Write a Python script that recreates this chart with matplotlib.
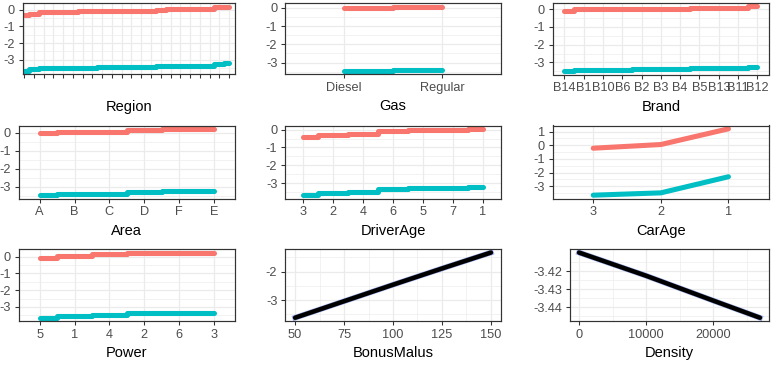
import matplotlib.pyplot as plt
from matplotlib.ticker import MultipleLocator, AutoMinorLocator, FormatStrFormatter, FixedLocator

plt.rcParams['font.family'] = ['Liberation Sans', 'DejaVu Sans']
plt.rcParams['axes.unicode_minus'] = False

RED = "#F8766D"
TEAL = "#00BFC4"
GRID = "#EBEBEB"
W, H, DPI = 771, 366, 96

# ---- data ----
region_levels = [""] * 22
region_red = [-0.32, -0.25, -0.17, -0.15, -0.15, -0.14, -0.07, -0.07, -0.07, -0.07, -0.07,
              -0.07, -0.07, -0.07, -0.02, 0.05, 0.05, 0.05, 0.05, 0.05, 0.13, 0.18]
region_teal = [-3.65, -3.57, -3.49, -3.49, -3.49, -3.49, -3.49, -3.49, -3.42, -3.42, -3.42,
               -3.42, -3.42, -3.42, -3.38, -3.35, -3.35, -3.35, -3.35, -3.35, -3.27, -3.21]

gas_levels = ["Diesel", "Regular"]
gas_red = [0.0, 0.07]
gas_teal = [-3.45, -3.40]

brand_levels = ["B14", "B1", "B10", "B6", "B2", "B3", "B4", "B5", "B13", "B11", "B12"]
brand_red = [-0.09, 0.03, 0.03, 0.03, 0.03, 0.03, 0.03, 0.09, 0.09, 0.09, 0.17]
brand_teal = [-3.50, -3.44, -3.44, -3.44, -3.39, -3.39, -3.39, -3.33, -3.33, -3.33, -3.27]

area_levels = ["A", "B", "C", "D", "F", "E"]
area_red = [0.0, 0.06, 0.06, 0.14, 0.22, 0.23]
area_teal = [-3.46, -3.38, -3.38, -3.30, -3.23, -3.23]

driver_levels = ["3", "2", "4", "6", "5", "7", "1"]
driver_red = [-0.43, -0.28, -0.25, -0.08, 0.0, 0.0, 0.05]
driver_teal = [-3.68, -3.55, -3.50, -3.35, -3.29, -3.28, -3.21]

carage_levels = ["3", "2", "1"]
carage_red = [-0.22, 0.05, 1.20]
carage_teal = [-3.66, -3.49, -2.31]

power_levels = ["5", "1", "4", "2", "6", "3"]
power_red = [-0.06, 0.03, 0.14, 0.23, 0.24, 0.24]
power_teal = [-3.64, -3.55, -3.45, -3.36, -3.35, -3.35]

bonus_x = [50, 75, 100, 125, 150]
bonus_y = [-3.62, -3.04, -2.46, -1.89, -1.33]

density_x = [0, 10000, 20000, 27000]
density_y = [-3.4098, -3.4226, -3.4363, -3.4458]
density_yticks = [-3.44, -3.43, -3.42]

# panel boxes in pixels: left, top, right, bottom
boxes = [
    (22.7, 3.3, 235, 74), (285.3, 3.3, 500.7, 74), (552.7, 3.0, 769, 74.5),
    (18.7, 125.5, 235, 198.5), (285.3, 125.5, 500.7, 198.5), (552.7, 125.5, 769, 198.5),
    (18.7, 249.3, 235, 321), (285.3, 249.3, 500.7, 321), (570, 249.3, 769, 321),
]

fig = plt.figure(figsize=(W / DPI, H / DPI), dpi=DPI, facecolor="white")


def make_ax(box):
    l, t, r, b = box
    ax = fig.add_axes([l / W, 1 - b / H, (r - l) / W, (b - t) / H])
    ax.set_axisbelow(True)
    for s in ax.spines.values():
        s.set_color("#333333")
        s.set_linewidth(0.9)
    ax.tick_params(length=2.75, width=0.8, color="#333333", pad=3.2,
                   labelsize=9.6, labelcolor="#4D4D4D")
    ax.tick_params(which="minor", length=0)
    ax.grid(which="major", color=GRID, lw=0.9)
    ax.grid(which="minor", color=GRID, lw=0.45)
    return ax


def discrete(ax, levels, red, teal, label, step=True, left=0.4):
    x = list(range(1, len(levels) + 1))
    if step:
        ax.step(x, red, where="mid", color=RED, lw=3.8, solid_joinstyle="round",
                solid_capstyle="round")
        ax.step(x, teal, where="mid", color=TEAL, lw=3.8, solid_joinstyle="round",
                solid_capstyle="round")
    else:
        ax.plot(x, red, color=RED, lw=3.8, solid_capstyle="round")
        ax.plot(x, teal, color=TEAL, lw=3.8, solid_capstyle="round")
    ax.set_xticks(x)
    ax.set_xticklabels(levels)
    ax.set_xlim(left, len(levels) + 0.6)
    ax.yaxis.set_major_locator(MultipleLocator(1))
    ax.yaxis.set_minor_locator(AutoMinorLocator(2))
    ax.yaxis.set_major_formatter(FormatStrFormatter("%d"))
    ax.margins(y=0.05)
    ax.set_xlabel(label, fontsize=11, labelpad=4)


axs = [make_ax(b) for b in boxes]

discrete(axs[0], region_levels, region_red, region_teal, "Region", left=0.87)
axs[0].xaxis.labelpad = 13.5
discrete(axs[1], gas_levels, gas_red, gas_teal, "Gas")
discrete(axs[2], brand_levels, brand_red, brand_teal, "Brand")
discrete(axs[3], area_levels, area_red, area_teal, "Area")
discrete(axs[4], driver_levels, driver_red, driver_teal, "DriverAge")
discrete(axs[5], carage_levels, carage_red, carage_teal, "CarAge", step=False)
discrete(axs[6], power_levels, power_red, power_teal, "Power")

ax = axs[7]
ax.plot(bonus_x, bonus_y, color="#3B5BDB", lw=4.2, alpha=0.5)
ax.plot(bonus_x, bonus_y, color="black", lw=3.4, solid_capstyle="round")
ax.xaxis.set_major_locator(MultipleLocator(25))
ax.xaxis.set_minor_locator(AutoMinorLocator(2))
ax.yaxis.set_major_locator(MultipleLocator(1))
ax.yaxis.set_minor_locator(AutoMinorLocator(2))
ax.yaxis.set_major_formatter(FormatStrFormatter("%d"))
ax.margins(0.05)
ax.set_xlabel("BonusMalus", fontsize=11, labelpad=4)

ax = axs[8]
ax.plot(density_x, density_y, color="#3B5BDB", lw=4.2, alpha=0.5)
ax.plot(density_x, density_y, color="black", lw=3.4, solid_capstyle="round")
ax.xaxis.set_major_locator(MultipleLocator(10000))
ax.xaxis.set_minor_locator(AutoMinorLocator(2))
ax.xaxis.set_major_formatter(FormatStrFormatter("%d"))
ax.yaxis.set_major_locator(FixedLocator(density_yticks))
ax.yaxis.set_minor_locator(FixedLocator([t + 0.005 for t in density_yticks] + [-3.445]))
ax.yaxis.set_major_formatter(FormatStrFormatter("%.2f"))
ax.margins(0.05)
ax.set_xlabel("Density", fontsize=11, labelpad=4)

fig.savefig("out.png", dpi=DPI, facecolor="white")
